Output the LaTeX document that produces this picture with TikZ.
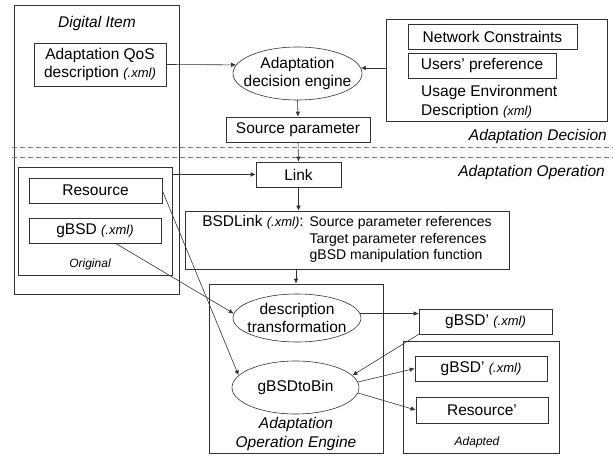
\documentclass[tikz,border=0pt]{standalone}
\usepackage{fontspec}
\setmainfont{Liberation Sans}
\usepackage{tikz}
\usetikzlibrary{positioning,arrows.meta,calc,shapes.geometric}

\newcommand{\mainsize}{\fontsize{15.5}{18}\selectfont}
\newcommand{\refsize}{\fontsize{14}{16.5}\selectfont}
\newcommand{\xmltag}[1]{{\fontsize{13}{15}\selectfont\itshape #1}}

\begin{document}
\begin{tikzpicture}[
    x=1pt, y=-1pt,
    >={Latex[length=5pt,width=4.5pt]},
    frame/.style={draw=black!80, line width=0.6pt, inner sep=0pt},
    box/.style={draw=black!80, line width=0.6pt, inner sep=0pt, align=center, font=\mainsize},
    engine/.style={draw=black!80, ellipse, line width=0.6pt, inner xsep=-15pt, inner ysep=-5pt,
                   align=center, font=\mainsize},
    caption/.style={font=\fontsize{15.5}{19}\selectfont\itshape, align=center, inner sep=0pt},
    tag/.style={font=\fontsize{12}{14}\selectfont\itshape, inner sep=0pt},
    link/.style={->, draw=black!80, line width=0.6pt},
    sep/.style={draw=gray, line width=0.6pt, dash pattern=on 5pt off 3pt},
  ]
    \useasboundingbox (0,0) rectangle (613,457);

    % decision side
    \node[frame, minimum width=165, minimum height=289] (item) at (96.5,149.5) {};
    \node[caption] (itemlbl) at (97,23) {Digital Item};
    \node[box, minimum width=132, minimum height=43] (qos) at (100,64.5)
      {Adaptation QoS\\description \xmltag{(.xml)}};
    \node[engine, minimum width=129, minimum height=53] (decision) at (297.5,73.5)
      {Adaptation\\decision engine};
    \node[frame, minimum width=221, minimum height=102] (usage) at (496.5,70) {};
    \node[box, minimum width=169, minimum height=25] (network) at (492.5,36.5) {Network Constraints};
    \node[box, minimum width=148, minimum height=25] (users) at (482,65.5) {Users’ preference};
    \node[font=\fontsize{15.5}{19}\selectfont, align=left, anchor=west, inner sep=0pt] (uedtxt)
      at (421,102) {Usage Environment\\Description \xmltag{(xml)}};
    \node[box, minimum width=144, minimum height=25] (source) at (298,129.5) {Source parameter};
    \node[caption, anchor=east] (declbl) at (607,136) {Adaptation Decision};

    \draw[sep] (12,147) -- (613,147);
    \draw[sep] (12,157) -- (613,157);

    % operation side
    \node[box, minimum width=85, minimum height=25] (link) at (298.5,174.5) {Link};
    \node[caption, anchor=east] (oplbl) at (605,172) {Adaptation Operation};
    \node[frame, minimum width=154, minimum height=108] (original) at (95,221) {};
    \node[box, minimum width=133, minimum height=25] (resource) at (95.5,190.5) {Resource};
    \node[box, minimum width=132, minimum height=25] (gbsd) at (95,230.5) {gBSD \xmltag{(.xml)}};
    \node[tag] (origlbl) at (90,264) {Original};
    \node[box, minimum width=324, minimum height=58, font=\refsize] (bsdlink) at (347,240)
      {\begin{tabular}{@{}l@{\hspace{6pt}}l@{}}
        {\mainsize BSDLink \xmltag{(.xml)}:} & Source parameter references\\
        & Target parameter references\\
        & gBSD manipulation function
      \end{tabular}};

    \node[frame, minimum width=174, minimum height=169] (engbox) at (296,368.5) {};
    \node[engine, minimum width=128, minimum height=48] (desctr) at (297,318)
      {description\\transformation};
    \node[engine, minimum width=127, minimum height=53] (bin) at (295.5,387.5) {gBSDtoBin};
    \node[caption] (englbl) at (296,433.5) {Adaptation\\Operation Engine};

    \node[box, minimum width=133, minimum height=25] (gbsdout) at (485.5,321.5) {gBSD’ \xmltag{(.xml)}};
    \node[frame, minimum width=156, minimum height=112] (adapted) at (481,397) {};
    \node[box, minimum width=132, minimum height=25] (gbsdad) at (481,368.5) {gBSD’ \xmltag{(.xml)}};
    \node[box, minimum width=132, minimum height=26] (resad) at (482,410) {Resource’};
    \node[tag] (adaptlbl) at (477,442) {Adapted};

    % connectors
    \draw[link] (qos.east) -- (decision.172);
    \draw[link] (usage.west |- decision.5) -- (decision.5);
    \draw[link] (decision.south) -- (source.north);
    \draw[link] (source.south) -- (link.north);
    \draw[link] (original.east |- link.west) -- (link.west);
    \draw[link] (link.south) -- (link.south |- bsdlink.north);
    \draw[link] (engbox.north |- bsdlink.south) -- (engbox.north);
    \draw[link] (desctr.4) -- (desctr.4 -| gbsdout.west);
    \draw[link] (gbsdout.south west) -- (bin.12);
    \draw[link] (bin.5) -- (gbsdad.west);
    \draw[link] (bin.-5) -- (resad.west);
    \draw[link] (gbsd.-32) -- (desctr.176);
    \draw[link] (resource.east) -- (bin.168);
  \end{tikzpicture}
\end{document}
